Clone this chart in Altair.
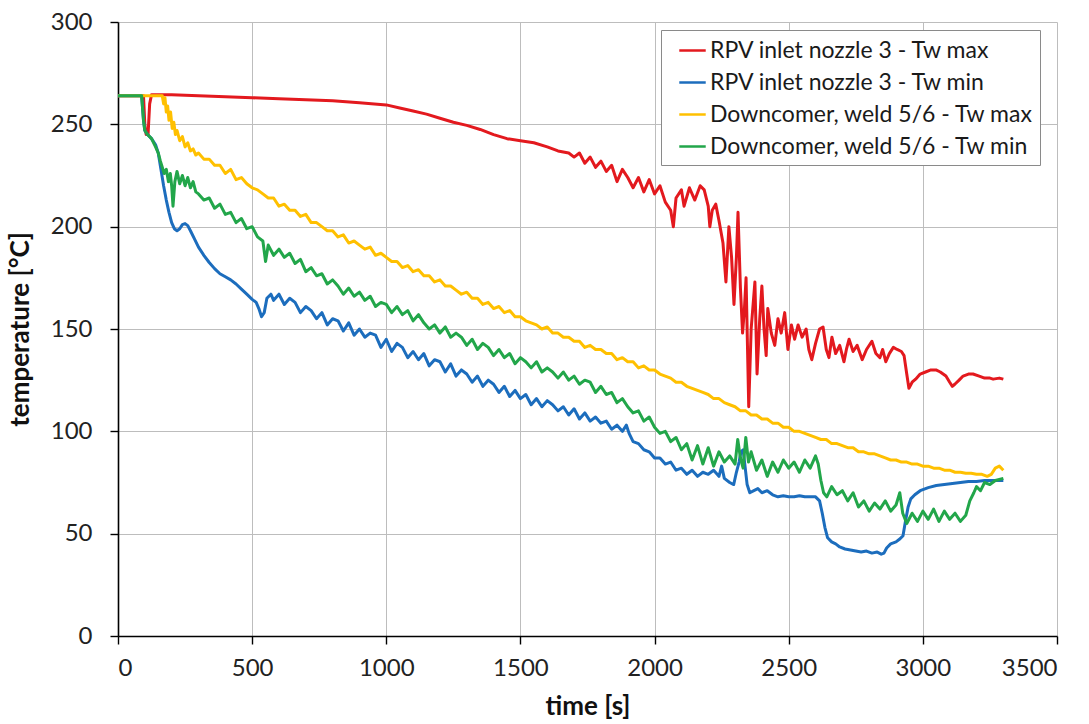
import altair as alt
import pandas as pd

SERIES = [
    "RPV inlet nozzle 3 - Tw max",
    "RPV inlet nozzle 3 - Tw min",
    "Downcomer, weld 5/6 - Tw max",
    "Downcomer, weld 5/6 - Tw min",
]
COLORS = ["#E3191E", "#1C6DBD", "#FFC000", "#22A64A"]

# RPV inlet nozzle 3 - Tw max
red_t = [0, 60, 95, 100, 105, 112, 118, 125, 200, 300, 400, 500, 600, 700, 800, 900,
         1000, 1050, 1100, 1150, 1200, 1250, 1300, 1350, 1400, 1450, 1500, 1550, 1600,
         1640, 1680, 1700, 1720, 1740, 1760, 1780, 1800, 1820, 1840, 1860, 1880, 1900,
         1920, 1940, 1960, 1980, 2000, 2020, 2040, 2060, 2070, 2080, 2100, 2110, 2130,
         2150, 2170, 2185, 2200, 2206, 2215, 2228, 2240, 2255, 2266, 2277, 2287, 2296,
         2305, 2311, 2320, 2328, 2335, 2341, 2351, 2360, 2374, 2382, 2392, 2400, 2408,
         2416, 2422, 2435, 2448, 2460, 2472, 2485, 2497, 2510, 2522, 2535, 2550, 2565,
         2575, 2586, 2600, 2615, 2628, 2640, 2650, 2661, 2675, 2690, 2706, 2715, 2725,
         2740, 2755, 2774, 2790, 2810, 2825, 2840, 2850, 2862, 2875, 2890, 2904, 2920,
         2930, 2940, 2948, 2960, 2973, 2990, 3010, 3030, 3049, 3065, 3086, 3100, 3110,
         3119, 3135, 3150, 3170, 3187, 3210, 3230, 3250, 3262, 3285, 3300]
red_v = [264, 264, 264, 250, 245, 245, 260, 264.5, 264.5, 264, 263.5, 263, 262.5, 262, 261.5, 260.5,
         259.5, 258, 256.5, 255, 253, 251, 249.5, 247.5, 245, 243, 242, 241, 239,
         237, 236, 234, 236, 231, 234, 229, 232, 227, 230, 222, 228, 224,
         219, 224, 217, 223, 216, 220, 212, 208, 200, 214, 218, 210, 219,
         213, 220, 218, 210, 200, 208, 211, 203, 192, 173, 200, 185, 162,
         185, 207, 170, 148, 160, 175, 112, 150, 173, 128, 155, 171, 150,
         137, 160, 148, 142, 155, 148, 158, 140, 152, 145, 152, 146, 150,
         140, 135, 143, 150, 151, 140, 136, 146, 138, 142, 134, 140, 145,
         139, 142, 135, 140, 144, 138, 136, 140, 134, 138, 141, 140, 139,
         137, 128, 121, 124, 125.5, 128, 129, 130, 130, 129, 127, 124, 122,
         123, 125, 127, 128, 128, 127, 126, 126, 125.5, 126, 125.5]

# RPV inlet nozzle 3 - Tw min
blue_t = [0, 60, 88, 95, 100, 110, 125, 140, 150, 160, 170, 180, 190, 200, 210, 220, 230,
          240, 250, 260, 270, 285, 300, 320, 340, 360, 380, 400, 420, 440, 460, 480, 500,
          515, 525, 535, 545, 555, 570, 580, 600, 620, 640, 660, 680, 700, 720, 740, 760,
          780, 800, 820, 840, 860, 880, 900, 920, 940, 960, 980, 1000, 1020, 1040, 1060,
          1080, 1100, 1120, 1140, 1160, 1180, 1200, 1220, 1240, 1260, 1280, 1300, 1320,
          1340, 1360, 1380, 1400, 1420, 1440, 1460, 1480, 1500, 1520, 1540, 1560, 1580,
          1600, 1620, 1640, 1660, 1680, 1700, 1720, 1740, 1760, 1780, 1800, 1820, 1840,
          1860, 1880, 1895, 1905, 1920, 1940, 1960, 1980, 2000, 2020, 2040, 2060, 2080,
          2100, 2120, 2140, 2160, 2180, 2200, 2220, 2240, 2250, 2260, 2280, 2295, 2305,
          2315, 2322, 2330, 2338, 2345, 2355, 2370, 2385, 2400, 2420, 2440, 2460, 2480,
          2500, 2520, 2540, 2560, 2580, 2600, 2615, 2625, 2635, 2645, 2660, 2675, 2690,
          2710, 2730, 2750, 2770, 2790, 2810, 2830, 2845, 2855, 2865, 2880, 2900, 2915,
          2926, 2935, 2945, 2955, 2970, 2990, 3020, 3050, 3080, 3110, 3140, 3170, 3200,
          3230, 3260, 3300]
blue_v = [264, 264, 264, 252, 247, 245, 243, 240, 236, 228, 220, 213, 207, 202, 199, 198, 199,
          201, 201.5, 200.5, 198, 194, 190, 186, 182.5, 179.5, 177, 175.5, 174, 172, 169.5, 167, 164.5,
          163, 160, 156, 158, 165, 167, 164, 167, 162, 165, 163, 158, 161, 159, 155, 158,
          152, 155, 154, 149, 153, 147, 150, 146, 148, 147, 141, 145, 139, 143, 141,
          136, 139, 135, 138, 132, 135, 134, 129, 133, 127, 130, 128, 124,
          127, 122, 125, 123, 119, 122, 117, 120, 116, 118, 113, 116, 112,
          115, 113, 110, 112, 108, 111, 106, 109, 105, 107, 104, 105, 101,
          103, 100, 103, 99, 95, 94, 91, 90, 87, 87, 84, 85, 81,
          82, 79, 81, 78, 80, 79, 81, 78, 83, 77, 75, 74, 80,
          85, 90, 91, 82, 74, 70, 71, 72, 70, 71, 69, 68, 68.5,
          68, 68, 68.5, 68, 68, 68, 66, 60, 53, 48, 46, 45, 43.5,
          42.5, 42, 41.5, 41, 41.5, 40.5, 41, 40, 40.5, 43, 45, 46, 47.5,
          49, 56, 63, 67, 69, 71, 72.5, 73.5, 74, 74.5, 75, 75.5, 75.5,
          76, 76, 76]

# Downcomer, weld 5/6 - Tw max
yel_t = [0, 100, 165, 170, 175, 180, 185, 190, 196, 202, 208, 214, 220, 230, 240, 250, 260,
         270, 280, 290, 300, 320, 340, 360, 380, 400, 420, 440, 460, 480, 500, 520, 540,
         560, 580, 600, 620, 640, 660, 680, 700, 720, 740, 760, 780, 800, 820, 840, 860,
         880, 900, 920, 940, 960, 980, 1000, 1020, 1040, 1060, 1080, 1100, 1120, 1140,
         1160, 1180, 1200, 1220, 1240, 1260, 1280, 1300, 1320, 1340, 1360, 1380, 1400,
         1420, 1440, 1460, 1480, 1500, 1520, 1540, 1560, 1580, 1600, 1620, 1640, 1660,
         1680, 1700, 1720, 1740, 1760, 1780, 1800, 1820, 1840, 1860, 1880, 1900, 1920,
         1940, 1960, 1980, 2000, 2020, 2040, 2060, 2080, 2100, 2120, 2140, 2160, 2180,
         2200, 2220, 2240, 2260, 2280, 2300, 2320, 2340, 2360, 2380, 2400, 2420, 2440,
         2460, 2480, 2500, 2520, 2540, 2560, 2580, 2600, 2620, 2640, 2660, 2680, 2700,
         2720, 2740, 2760, 2780, 2800, 2820, 2840, 2860, 2880, 2900, 2920, 2940, 2960,
         2980, 3000, 3020, 3040, 3060, 3080, 3100, 3120, 3140, 3160, 3180, 3200, 3220,
         3240, 3255, 3270, 3285, 3300]
yel_v = [264, 264, 264, 260, 263, 256, 259, 252, 256, 248, 251, 245, 247, 242, 244, 239, 241,
         237, 238, 235, 236, 233, 233, 230, 230, 226, 228, 223, 224, 221, 219, 218, 216,
         214, 214, 210, 211, 208, 208, 205, 206, 202, 202, 200, 198, 198, 195, 196, 192,
         193, 191, 189, 190, 186, 187, 185, 183, 183, 180, 181, 178, 179, 176,
         176, 173, 174, 171, 171, 169, 167, 168, 165, 165, 162, 163, 160,
         161, 158, 159, 156, 156, 154, 153, 152, 150, 151, 148, 148, 146,
         146, 144, 144, 141, 142, 140, 140, 138, 138, 135, 136, 134, 134,
         131, 132, 130, 130, 128, 127, 126, 124, 124, 122, 121, 120, 119,
         118, 116, 116, 114, 113, 112, 110, 110, 108, 108, 106, 106, 104,
         104, 102, 102, 100, 100, 99, 98, 97, 96, 96, 94, 94, 93,
         92, 92, 90, 90, 89, 89, 88, 87, 86, 86, 85, 85, 84,
         84, 83, 83, 82, 82, 81, 81, 80, 80, 79.5, 79.5, 79, 79,
         78, 79, 82, 83, 81]

# Downcomer, weld 5/6 - Tw min
grn_t = [0, 60, 88, 95, 100, 110, 125, 140, 150, 158, 165, 172, 180, 188, 195, 200, 205,
         212, 220, 230, 240, 250, 260, 270, 280, 290, 300, 320, 340, 360, 380, 400, 420,
         440, 460, 480, 500, 520, 540, 550, 560, 580, 600, 620, 640, 660, 680, 700, 720,
         740, 760, 780, 800, 820, 840, 860, 880, 900, 920, 940, 960, 980, 1000, 1020,
         1040, 1060, 1080, 1100, 1120, 1140, 1160, 1180, 1200, 1220, 1240, 1260, 1280,
         1300, 1320, 1340, 1360, 1380, 1400, 1420, 1440, 1460, 1480, 1500, 1520, 1540,
         1560, 1580, 1600, 1620, 1640, 1660, 1680, 1700, 1720, 1740, 1760, 1780, 1800,
         1820, 1840, 1860, 1880, 1900, 1920, 1940, 1960, 1980, 2000, 2020, 2040, 2060,
         2080, 2100, 2120, 2140, 2160, 2180, 2200, 2220, 2240, 2260, 2280, 2300, 2310,
         2320, 2330, 2340, 2350, 2360, 2380, 2400, 2420, 2440, 2460, 2480, 2500, 2520,
         2540, 2560, 2580, 2600, 2610, 2620, 2630, 2642, 2660, 2680, 2700, 2720, 2740,
         2760, 2780, 2800, 2820, 2840, 2860, 2880, 2900, 2914, 2925, 2940, 2960, 2980,
         3000, 3020, 3040, 3060, 3080, 3100, 3120, 3140, 3160, 3175, 3190, 3200, 3215,
         3230, 3250, 3270, 3300]
grn_v = [264, 264, 264, 252, 247, 245, 243, 239, 236, 232, 229, 226, 228, 222, 226, 220, 210,
         222, 227, 221, 225, 220, 224, 219, 222, 217, 216, 213, 214, 209, 211, 206, 207,
         202, 204, 199, 200, 195, 193, 183, 191, 186, 189, 185, 187, 182, 184, 178, 180,
         176, 177, 172, 174, 171, 167, 170, 166, 168, 164, 166, 161, 163, 162, 158,
         161, 157, 159, 154, 157, 153, 150, 152, 148, 151, 146, 148, 146,
         142, 145, 140, 143, 141, 137, 140, 136, 138, 133, 136, 134, 131,
         134, 129, 131, 129, 126, 129, 125, 127, 123, 125, 124, 119, 122,
         118, 119, 114, 116, 112, 109, 110, 105, 107, 102, 99, 100, 95,
         97, 91, 94, 86, 93, 84, 92, 83, 90, 85, 88, 84, 96,
         87, 82, 97, 85, 90, 81, 86, 78, 85, 80, 86, 82, 85,
         80, 86, 82, 88, 84, 76, 70, 68, 73, 69, 71, 66, 70,
         63, 66, 61, 65, 62, 66, 61, 64, 70, 60, 55, 60, 56,
         61, 57, 62, 56, 61, 57, 60, 56, 59, 66, 70, 73, 71,
         75, 74, 76, 77]

rows = []
for name, ts, vs in [(SERIES[0], red_t, red_v), (SERIES[1], blue_t, blue_v),
                     (SERIES[2], yel_t, yel_v), (SERIES[3], grn_t, grn_v)]:
    for t, v in zip(ts, vs):
        rows.append({"series": name, "time": t, "temp": v})
df = pd.DataFrame(rows)

FONT = "Lato"

chart = alt.Chart(df).mark_line(strokeWidth=3, strokeJoin="round").encode(
    x=alt.X("time:Q", scale=alt.Scale(domain=[0, 3500], nice=False),
            axis=alt.Axis(values=[0, 500, 1000, 1500, 2000, 2500, 3000, 3500],
                          format="d", title="time [s]")),
    y=alt.Y("temp:Q", scale=alt.Scale(domain=[0, 300], nice=False),
            axis=alt.Axis(values=[0, 50, 100, 150, 200, 250, 300],
                          format="d", title="temperature [°C]")),
    color=alt.Color("series:N", sort=SERIES,
                    scale=alt.Scale(domain=SERIES, range=COLORS),
                    legend=alt.Legend(orient="none", legendX=543, legendY=8, title=None,
                                      strokeColor="#8A8A8A", fillColor="white", padding=6,
                                      labelFont=FONT, labelFontSize=23, labelColor="#1a1a1a",
                                      labelLimit=500, labelOffset=3, symbolOffset=11,
                                      symbolType="stroke", symbolStrokeWidth=2.5,
                                      symbolSize=700, rowPadding=5)),
    detail="series:N",
).properties(
    width=939, height=614,
    autosize=alt.AutoSizeParams(type="none"),
    padding={"left": 118, "top": 22, "right": 32, "bottom": 88},
).configure_view(
    strokeWidth=0
).configure_axis(
    labelFont=FONT, labelFontSize=24, labelColor="#222222",
    titleFont=FONT, titleFontSize=26, titleFontWeight="bold", titleColor="#111111",
    domainColor="#000000", domainWidth=1.6,
    tickColor="#000000", tickWidth=1.4, tickSize=8,
    gridColor="#BDBDBD", gridWidth=1,
).configure_axisY(
    labelPadding=18, titlePadding=17
).configure_axisX(
    labelPadding=12, titlePadding=13
)

chart.save("out.html", embed_options={"renderer": "svg", "actions": False})
